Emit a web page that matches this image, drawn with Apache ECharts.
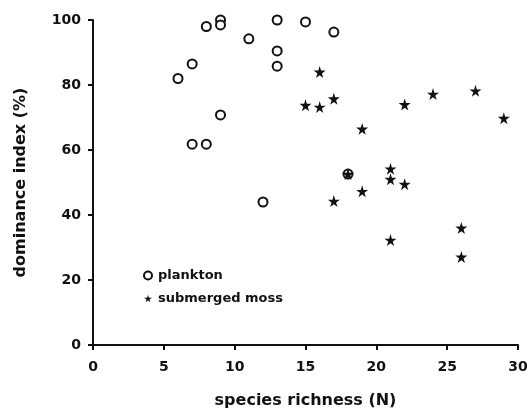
<!DOCTYPE html>
<html><head><meta charset="utf-8">
<script src="https://cdn.jsdelivr.net/npm/echarts@6/dist/echarts.min.js"></script>
<style>html,body{margin:0;padding:0;background:#fff}#c{width:531px;height:415px}</style>
</head><body><div id="c"></div>
<script>
const planktonX = [6, 7, 8, 9, 9, 11, 9, 7, 8, 13, 15, 17, 13, 13, 18, 12];
const planktonY = [82, 86.5, 98, 100, 98.5, 94.2, 70.8, 61.8, 61.8, 100, 99.4, 96.3, 90.5, 85.8, 52.6, 44];
const mossX = [16, 15, 16, 17, 22, 24, 27, 29, 19, 21, 21, 22, 19, 17, 21, 26, 26, 18];
const mossY = [84, 73.8, 73.2, 75.8, 74, 77.2, 78.2, 69.8, 66.5, 54.2, 51, 49.5, 47.3, 44.3, 32.3, 36, 27.1, 52.6];
const xTicks = [0, 5, 10, 15, 20, 25, 30];
const yTicks = [0, 20, 40, 60, 80, 100];

const star = 'path://M50,0 L61,35 L98,35 L68,57 L79,91 L50,70 L21,91 L32,57 L2,35 L39,35 Z';
const font = 'DejaVu Sans';
const chart = echarts.init(document.getElementById('c'));
chart.setOption({
  animation: false,
  backgroundColor: '#fff',
  grid: {left: 93, right: 13, top: 20, bottom: 70},
  legend: {
    orient: 'vertical', left: 138, top: 264, itemGap: 10,
    itemWidth: 8, itemHeight: 8,
    textStyle: {fontFamily: font, fontWeight: 'bold', fontSize: 13, color: '#111', padding: [0, 0, 0, 1]},
    data: [{name: 'plankton'}, {name: 'submerged moss'}]
  },
  xAxis: {
    type: 'value', min: xTicks[0], max: xTicks[xTicks.length-1], interval: 5,
    name: 'species richness (N)', nameLocation: 'middle', nameGap: 48,
    nameTextStyle: {fontFamily: font, fontWeight: 'bold', fontSize: 16, color: '#111'},
    axisLine: {onZero: false, lineStyle: {color: '#111', width: 2}},
    axisTick: {length: 5, lineStyle: {color: '#111', width: 2}},
    axisLabel: {fontFamily: font, fontWeight: 'bold', fontSize: 14, color: '#111', margin: 15},
    splitLine: {show: false}
  },
  yAxis: {
    type: 'value', min: yTicks[0], max: yTicks[yTicks.length-1], interval: 20,
    name: 'dominance index (%)', nameLocation: 'middle', nameGap: 64, nameRotate: 90,
    nameTextStyle: {fontFamily: font, fontWeight: 'bold', fontSize: 16, color: '#111'},
    axisLine: {show: true, onZero: false, lineStyle: {color: '#111', width: 2}},
    axisTick: {show: true, length: 5, lineStyle: {color: '#111', width: 2}},
    axisLabel: {fontFamily: font, fontWeight: 'bold', fontSize: 14, color: '#111', margin: 12},
    splitLine: {show: false}
  },
  series: [
    {
      name: 'plankton', type: 'scatter', symbol: 'circle', symbolSize: 9,
      itemStyle: {color: '#fff', borderColor: '#111', borderWidth: 2, opacity: 1},
      data: planktonX.map((x, i) => [x, planktonY[i]])
    },
    {
      name: 'submerged moss', type: 'scatter', symbol: star, symbolSize: 12,
      itemStyle: {color: '#111', opacity: 1},
      data: mossX.map((x, i) => [x, mossY[i]])
    }
  ]
});
</script></body></html>
